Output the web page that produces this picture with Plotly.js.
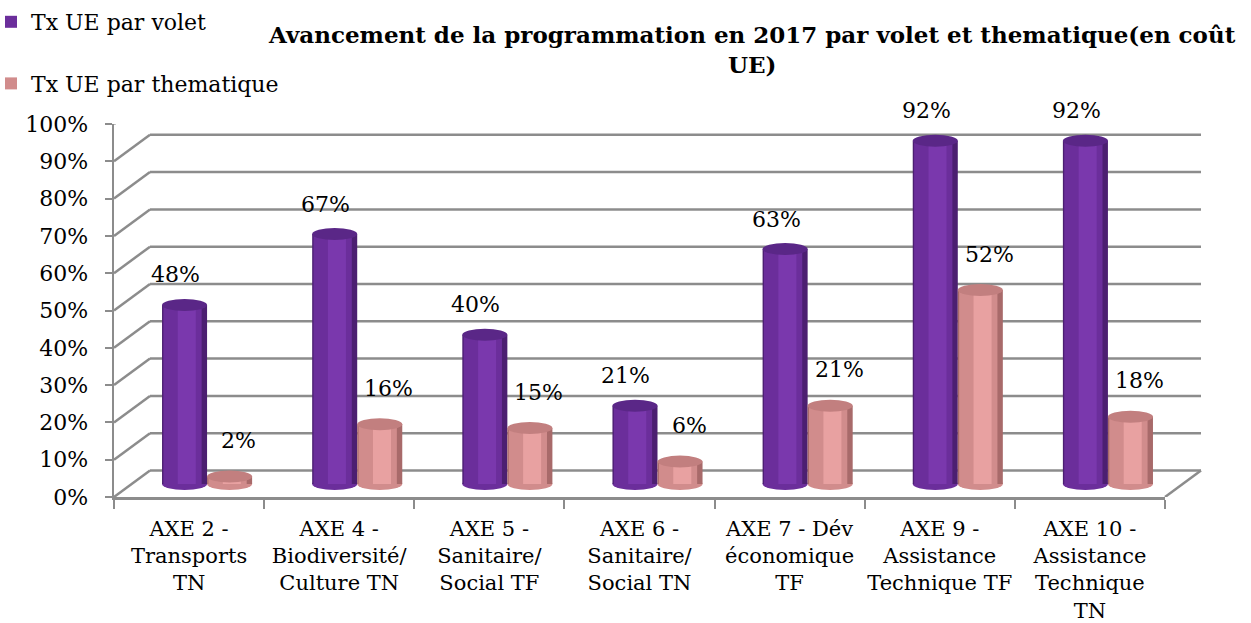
<!DOCTYPE html>
<html>
<head>
<meta charset="utf-8">
<script src="https://cdn.plot.ly/plotly-3.0.1.min.js"></script>
<style>
  html, body { margin: 0; padding: 0; background: #ffffff; }
  #chart { width: 1251px; height: 623px; }
</style>
</head>
<body>
<div id="chart"></div>
<script>
// ---- data ----
const categories = [
  "AXE 2 -<br>Transports<br>TN",
  "AXE 4 -<br>Biodiversité/<br>Culture TN",
  "AXE 5 -<br>Sanitaire/<br>Social TF",
  "AXE 6 -<br>Sanitaire/<br>Social TN",
  "AXE 7 - Dév<br>économique<br>TF",
  "AXE 9 -<br>Assistance<br>Technique TF",
  "AXE 10 -<br>Assistance<br>Technique<br>TN"
];
const seriesNames = ["Tx UE par volet", "Tx UE par thematique"];
const volet = [0.48, 0.67, 0.40, 0.21, 0.63, 0.92, 0.92];
const thematique = [0.02, 0.16, 0.15, 0.06, 0.21, 0.52, 0.18];
const yTickVals = [0, 0.1, 0.2, 0.3, 0.4, 0.5, 0.6, 0.7, 0.8, 0.9, 1.0];
const titleText = "Avancement de la programmation en 2017 par volet et thematique(en coût<br>UE)";

// ---- layout geometry (style) ----
const FIG_W = 1251, FIG_H = 623;
const M = { l: 114, r: 86, t: 124, b: 126, autoexpand: false };
const plotW = FIG_W - M.l - M.r;
const plotH = FIG_H - M.t - M.b;
const nCat = categories.length;
const catPx = plotW / nCat;
const backDX = 36, backDY = 26.5;   // back wall offset (px)
const barDX = 18, barDY = 13;       // bar plane offset (px)
const barW = 0.30;                  // bar width in category units
const ellH = 6;                     // half-height of cylinder ellipse (px)
const gridColor = "#8c8c8c";
const FONT = "DejaVu Serif";

const x2Shift = barDX / catPx;
const y2Shift = barDY / plotH;

const styles = [
  { edge: "#4c1f71", mid: "#6b2e9b", hi: "#7a38ad", top: "#5a2787", dx: -barW / 2, lx: -9, ly: 24 },
  { edge: "#a86a6a", mid: "#d18c8c", hi: "#e8a1a1", top: "#c27f7f", dx: barW / 2, lx: 9, ly: 30 }
];
const seriesData = [volet, thematique];

const traces = [];
// invisible trace to carry the category axis
traces.push({
  type: "scatter", x: categories, y: categories.map(() => 0),
  xaxis: "x", yaxis: "y", mode: "markers", marker: { opacity: 0 },
  showlegend: false, hoverinfo: "skip"
});

const shapes = [];
const annotations = [];

// back wall gridlines and left diagonals
yTickVals.forEach(v => {
  shapes.push({
    type: "line", layer: "below",
    xref: "paper", x0: backDX / plotW, x1: 1 + backDX / plotW,
    yref: "y", ysizemode: "pixel", yanchor: v, y0: backDY, y1: backDY,
    line: { color: gridColor, width: 2.5 }
  });
  shapes.push({
    type: "line", layer: "below",
    xref: "paper", x0: 0, x1: backDX / plotW,
    yref: "y", ysizemode: "pixel", yanchor: v, y0: 0, y1: backDY,
    line: { color: gridColor, width: 2.5 }
  });
});
// right floor diagonal
shapes.push({
  type: "line", layer: "below",
  xref: "paper", x0: 1, x1: 1 + backDX / plotW,
  yref: "y", ysizemode: "pixel", yanchor: 0, y0: 0, y1: backDY,
  line: { color: gridColor, width: 2.5 }
});

seriesData.forEach((vals, s) => {
  const st = styles[s];
  const centers = vals.map((_, i) => i + st.dx);
  const common = { type: "bar", xaxis: "x2", yaxis: "y2", hoverinfo: "skip" };
  traces.push(Object.assign({}, common, {
    x: centers, y: vals, width: barW, showlegend: false,
    marker: { color: st.edge, line: { width: 0 } }
  }));
  traces.push(Object.assign({}, common, {
    name: seriesNames[s], legendgroup: "g" + s,
    x: centers.map(c => c - 0.045 * barW), y: vals, width: 0.85 * barW, showlegend: true,
    marker: { color: st.mid, line: { width: 0 } }
  }));
  traces.push(Object.assign({}, common, {
    x: centers.map(c => c + 0.05 * barW), y: vals, width: 0.40 * barW, showlegend: false,
    marker: { color: st.hi, line: { width: 0 } }
  }));

  vals.forEach((v, i) => {
    const c = centers[i];
    shapes.push({
      type: "circle", layer: "below",
      xref: "x2", x0: c - barW / 2, x1: c + barW / 2,
      yref: "y2", ysizemode: "pixel", yanchor: 0, y0: -ellH, y1: ellH,
      fillcolor: st.mid, line: { width: 0 }
    });
    shapes.push({
      type: "circle", layer: "above",
      xref: "x2", x0: c - barW / 2, x1: c + barW / 2,
      yref: "y2", ysizemode: "pixel", yanchor: v, y0: -ellH, y1: ellH,
      fillcolor: st.top, line: { width: 0 }
    });
    annotations.push({
      xref: "x2", yref: "y2", x: c, y: v,
      text: Math.round(v * 100) + "%", showarrow: false,
      xanchor: "center", yanchor: "middle", xshift: st.lx, yshift: ellH + st.ly,
      font: { family: FONT, size: 22, color: "#000000" }
    });
  });
});

// chart title
annotations.push({
  xref: "paper", yref: "paper",
  x: (752 - M.l) / plotW, xanchor: "center",
  y: 1 + (M.t - 49) / plotH, yanchor: "middle",
  text: titleText, showarrow: false, align: "center",
  font: { family: FONT, size: 23, weight: "bold", color: "#000000" }
});

const layout = {
  width: FIG_W, height: FIG_H,
  margin: M,
  paper_bgcolor: "#ffffff", plot_bgcolor: "rgba(0,0,0,0)",
  font: { family: FONT, color: "#000000" },
  barmode: "overlay",
  hovermode: false,
  showlegend: true,
  legend: {
    x: -123 / plotW, xanchor: "left",
    y: 1 + (M.t - 1) / plotH, yanchor: "top",
    orientation: "v", tracegroupgap: 30,
    font: { family: FONT, size: 22, color: "#000000" },
    bgcolor: "rgba(0,0,0,0)"
  },
  xaxis: {
    type: "category", categoryorder: "array", categoryarray: categories,
    range: [-0.5, nCat - 0.5], fixedrange: true,
    showgrid: false, zeroline: false,
    showline: true, linecolor: gridColor, linewidth: 2.5,
    ticks: "outside", tickson: "boundaries", ticklen: 9, tickwidth: 2, tickcolor: gridColor,
    ticklabelstandoff: 11,
    tickfont: { family: FONT, size: 21, color: "#000000" },
    tickangle: 0
  },
  yaxis: {
    range: [0, 1], fixedrange: true,
    tickvals: yTickVals, tickformat: ".0%",
    showgrid: false, zeroline: false,
    showline: true, linecolor: gridColor, linewidth: 2.5,
    ticks: "outside", ticklen: 7, tickwidth: 2, tickcolor: gridColor,
    ticklabelstandoff: 12,
    tickfont: { family: FONT, size: 22, color: "#000000" }
  },
  xaxis2: {
    overlaying: "x", type: "linear",
    range: [-0.5 - x2Shift, nCat - 0.5 - x2Shift],
    visible: false, fixedrange: true
  },
  yaxis2: {
    overlaying: "y", type: "linear", anchor: "x2",
    range: [0 - y2Shift, 1 - y2Shift],
    visible: false, fixedrange: true
  },
  shapes: shapes,
  annotations: annotations
};

Plotly.newPlot("chart", traces, layout, { displayModeBar: false, staticPlot: true });
</script>
</body>
</html>
